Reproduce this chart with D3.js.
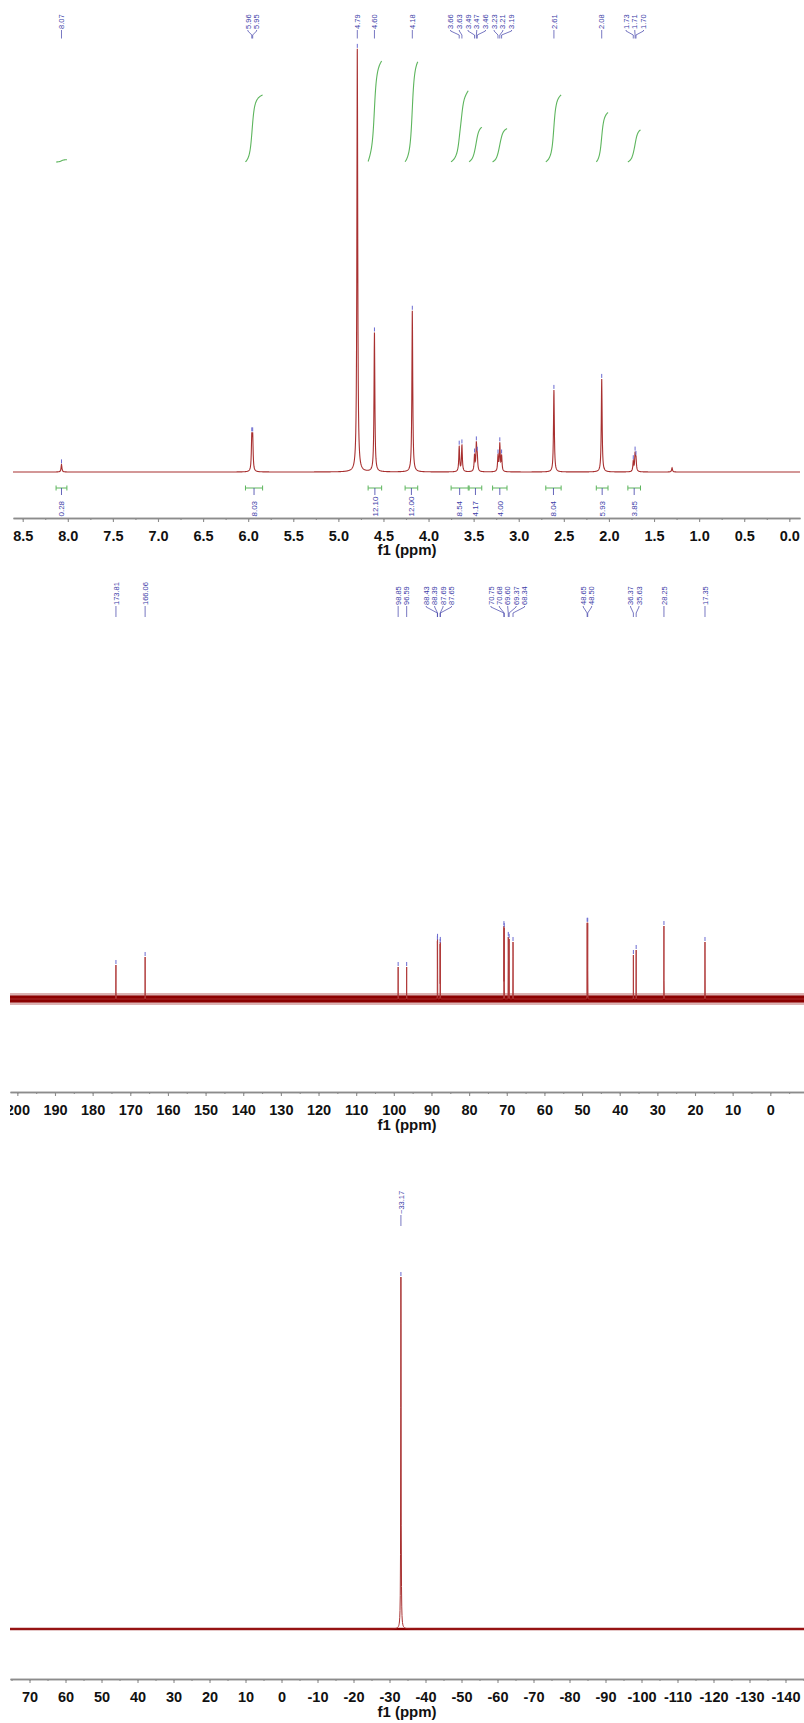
<!DOCTYPE html>
<html>
<head>
<meta charset="utf-8">
<script src="https://cdn.jsdelivr.net/npm/d3@7"></script>
<style>
body { margin: 0; background: #fff; }
svg { display: block; font-family: "Liberation Sans", Arial, sans-serif; }
</style>
</head>
<body>
<svg id="chart" width="804" height="1723"></svg>
<script>

// ---- 1H spectrum ----
var hShift  = [8.07, 5.96, 5.95, 4.79, 4.60, 4.18, 3.66, 3.63, 3.49, 3.47, 3.46, 3.23, 3.21, 3.19, 2.61, 2.08, 1.73, 1.71, 1.70];
var hHeight = [1.8, 7.6, 7.6, 100, 32.9, 38.1, 6.0, 6.3, 3.8, 6.2, 3.2, 3.6, 6.5, 3.6, 19.4, 22.0, 2.4, 4.0, 2.8];
var hSmallShift  = [1.30];          // small unlabelled peak
var hSmallHeight = [1.0];
var hIntFrom  = [8.13, 6.03, 4.67, 4.26, 3.75, 3.55, 3.29, 2.70, 2.14, 1.79];
var hIntTo    = [8.01, 5.84, 4.52, 4.12, 3.56, 3.41, 3.13, 2.53, 2.01, 1.65];
var hIntValue = [0.28, 8.03, 12.10, 12.00, 8.54, 4.17, 4.00, 8.04, 5.93, 3.85];
var hTicks = [8.5, 8.0, 7.5, 7.0, 6.5, 6.0, 5.5, 5.0, 4.5, 4.0, 3.5, 3.0, 2.5, 2.0, 1.5, 1.0, 0.5, 0.0];

// ---- 13C spectrum ----
var cShift  = [173.81, 166.06, 98.85, 96.59, 88.43, 88.39, 87.69, 87.65, 70.75, 70.68, 69.60, 69.37, 68.34, 48.65, 48.50, 36.37, 35.63, 28.25, 17.35];
var cHeight = [34, 42, 32, 32, 56, 58, 53, 55, 72, 70, 62, 60, 57, 76, 76, 44, 49, 73, 57];
var cTicks = [200, 190, 180, 170, 160, 150, 140, 130, 120, 110, 100, 90, 80, 70, 60, 50, 40, 30, 20, 10, 0];

// ---- 31P spectrum ----
var pShift  = [-33.17];
var pHeight = [100];
var pTicks = [70, 60, 50, 40, 30, 20, 10, 0, -10, -20, -30, -40, -50, -60, -70, -80, -90, -100, -110, -120, -130, -140];

var BLUE = "#3d3da8", GREEN = "#5db55d", RED = "#a83030", DARK = "#8b0000", AXIS = "#8c8c8c";

var svg = d3.select("#chart");

function lorentz(ppm, shifts, heights, hw) {
    var s = 0;
    for (var i = 0; i < shifts.length; i++) {
        var d = (ppm - shifts[i]) / hw;
        s += heights[i] / (1 + d * d);
    }
    return s;
}

// spread crowded peak labels, the way the NMR software does it
function spreadLabels(xs, gap) {
    var groups = xs.map(function (v) { return { xs: [v] }; });
    function place(g) {
        var c = d3.mean(g.xs);
        g.start = c - (g.xs.length - 1) * gap / 2;
        g.end = g.start + (g.xs.length - 1) * gap;
    }
    groups.forEach(place);
    var merged = true;
    while (merged) {
        merged = false;
        for (var i = 1; i < groups.length; i++) {
            if (groups[i].start - groups[i - 1].end < gap - 0.01) {
                groups[i - 1].xs = groups[i - 1].xs.concat(groups[i].xs);
                place(groups[i - 1]);
                groups.splice(i, 1);
                merged = true;
                break;
            }
        }
    }
    var out = [];
    groups.forEach(function (g) {
        g.xs.forEach(function (v, k) { out.push(g.start + k * gap); });
    });
    return out;
}

function drawSpectrum(p) {
    var g = svg.append("g");
    var x = p.x, y = p.y;
    var allShift = p.shift.concat(p.extraShift || []);
    var allHeight = p.height.concat(p.extraHeight || []);
    var r = x.range();
    var pts = d3.range(r[0], r[1] + 0.01, 0.25).map(function (px) { return x.invert(px); });
    pts = pts.concat(allShift).sort(function (a, b) { return b - a; });
    var data = pts.map(function (v) { return [v, lorentz(v, allShift, allHeight, p.hw)]; });

    if (p.band) {
        g.append("line")
            .attr("x1", r[0]).attr("x2", r[1])
            .attr("y1", y(0)).attr("y2", y(0))
            .attr("stroke", DARK).attr("stroke-opacity", 0.3)
            .attr("stroke-width", p.band + p.fuzz);
        g.append("line")
            .attr("x1", r[0]).attr("x2", r[1])
            .attr("y1", y(0)).attr("y2", y(0))
            .attr("stroke", DARK)
            .attr("stroke-width", p.band);
    }

    g.append("path")
        .datum(data)
        .attr("fill", "none")
        .attr("stroke", p.color)
        .attr("stroke-width", p.lw)
        .attr("d", d3.line()
            .x(function (d) { return x(d[0]); })
            .y(function (d) { return y(d[1]); }));

    // peak pick markers and labels
    var px = p.shift.map(function (s) { return x(s); });
    var lx = spreadLabels(px, p.gap);
    p.shift.forEach(function (s, i) {
        var top = y(lorentz(s, allShift, allHeight, p.hw));
        g.append("line")
            .attr("x1", px[i]).attr("x2", px[i])
            .attr("y1", top - 5).attr("y2", top - 1)
            .attr("stroke", "#6a6ad0").attr("stroke-width", 1);
        var L = p.lab;
        g.append("path")
            .attr("fill", "none")
            .attr("stroke", BLUE)
            .attr("stroke-width", 0.7)
            .attr("d", "M" + lx[i] + "," + L.a + "L" + lx[i] + "," + L.b +
                       "L" + px[i] + "," + L.c + "L" + px[i] + "," + L.d);
        g.append("text")
            .attr("transform", "translate(" + lx[i] + "," + (L.a - 1) + ") rotate(-90)")
            .attr("dy", "0.35em")
            .attr("font-size", 7.5)
            .attr("fill", BLUE)
            .text(p.fmt(s));
    });
}

function drawAxis(x, y0, majors, minorStep, fmt, clipId) {
    var g = svg.append("g").attr("transform", "translate(0," + y0 + ")");
    if (clipId) g.attr("clip-path", "url(#" + clipId + ")");
    var dom = x.domain();
    var lo = Math.min(dom[0], dom[1]), hi = Math.max(dom[0], dom[1]);
    var minors = d3.range(Math.ceil(lo / minorStep) * minorStep, hi, minorStep);

    g.append("g")
        .call(d3.axisBottom(x).tickValues(minors).tickSize(2).tickSizeOuter(0).tickFormat(""));
    g.append("g")
        .call(d3.axisBottom(x).tickValues(majors).tickSize(4).tickSizeOuter(0)
              .tickPadding(9).tickFormat(fmt));

    g.selectAll("path.domain").attr("stroke", AXIS).attr("stroke-width", 1.3);
    g.selectAll(".tick line").attr("stroke", AXIS).attr("stroke-width", 1.1);
    g.selectAll(".tick text")
        .attr("font-family", "'Liberation Sans', Arial, sans-serif")
        .attr("font-size", 14.5)
        .attr("font-weight", "bold")
        .attr("fill", "#111");
    g.attr("font-family", null).attr("font-size", null);
}

function axisTitle(yb) {
    svg.append("text")
        .attr("x", 407).attr("y", yb)
        .attr("text-anchor", "middle")
        .attr("font-size", 15)
        .attr("font-weight", "bold")
        .attr("fill", "#111")
        .text("f1 (ppm)");
}

// ================= 1H =================
var xH = d3.scaleLinear().domain([8.6076, -0.1186]).range([13, 800]);
var yH = d3.scaleLinear().domain([0, 100]).range([472, 49]);
var yInt = d3.scaleLinear().domain([0, 12.10]).range([162, 61]);

drawSpectrum({
    x: xH, y: yH, shift: hShift, height: hHeight,
    extraShift: hSmallShift, extraHeight: hSmallHeight,
    hw: 0.0055, color: RED, lw: 1.1, gap: 8.7,
    lab: { a: 30, b: 31, c: 35, d: 38.5 },
    fmt: d3.format(".2f")
});

// integrals
var gi = svg.append("g");
hIntValue.forEach(function (v, i) {
    var a = hIntFrom[i], b = hIntTo[i];
    var steps = d3.range(0, 81).map(function (k) { return a + (b - a) * k / 80; });
    var cum = 0, acc = [];
    steps.forEach(function (s) {
        cum += lorentz(s, hShift.concat(hSmallShift), hHeight.concat(hSmallHeight), 0.02);
        acc.push(cum);
    });
    var total = acc[acc.length - 1];
    gi.append("path")
        .attr("fill", "none")
        .attr("stroke", GREEN)
        .attr("stroke-width", 1.1)
        .attr("d", d3.line()
            .x(function (d, k) { return xH(steps[k]); })
            .y(function (d) { return yInt(v * d / total); })
            .curve(d3.curveBasis)(acc));

    var x1 = xH(a), x2 = xH(b), mid = (x1 + x2) / 2;
    gi.append("path")
        .attr("fill", "none")
        .attr("stroke", GREEN)
        .attr("stroke-width", 1)
        .attr("d", "M" + x1 + ",488L" + x2 + ",488M" + x1 + ",485.5L" + x1 + ",490.5M" + x2 + ",485.5L" + x2 + ",490.5");
    gi.append("line")
        .attr("x1", mid).attr("x2", mid).attr("y1", 488).attr("y2", 495)
        .attr("stroke", BLUE).attr("stroke-width", 0.8);
    gi.append("text")
        .attr("transform", "translate(" + mid + ",516.5) rotate(-90)")
        .attr("dy", "0.35em")
        .attr("font-size", 8)
        .attr("fill", BLUE)
        .text(d3.format(".2f")(v));
});

drawAxis(xH, 518, hTicks, 0.25, d3.format(".1f"));
axisTitle(555);

// ================= 13C =================
var xC = d3.scaleLinear().domain([201.95, -8.95]).range([10, 804]);
var yC = d3.scaleLinear().domain([0, 100]).range([999, 899]);

// clip rect is in the axis group's own coordinates
svg.append("clipPath").attr("id", "clipC")
    .append("rect").attr("x", 10).attr("y", -15).attr("width", 794).attr("height", 60);

drawSpectrum({
    x: xC, y: yC, shift: cShift, height: cHeight,
    hw: 0.008, color: "#b03a3a", lw: 1, gap: 8.4, band: 7, fuzz: 5,
    lab: { a: 606, b: 607, c: 613, d: 617 },
    fmt: d3.format(".2f")
});
drawAxis(xC, 1092, cTicks, 5, function (d) { return String(d); }, "clipC");
axisTitle(1130);

// ================= 31P =================
var xP = d3.scaleLinear().domain([75.42, -145.14]).range([10, 804]);
var yP = d3.scaleLinear().domain([0, 100]).range([1629, 1277]);

drawSpectrum({
    x: xP, y: yP, shift: pShift, height: pHeight,
    hw: 0.06, color: RED, lw: 1, gap: 8.4, band: 2, fuzz: 1.5,
    lab: { a: 1215, b: 1216, c: 1222, d: 1226 },
    fmt: d3.format(".2f")
});
drawAxis(xP, 1679, pTicks, 5, function (d) { return String(d); });
axisTitle(1717);

</script>
</body>
</html>
